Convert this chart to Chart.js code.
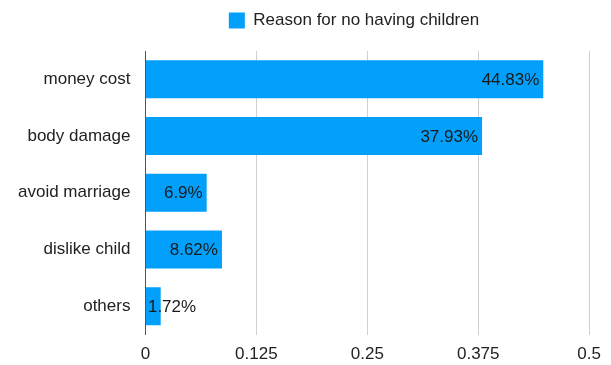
<!DOCTYPE html>
<html>
<head>
<meta charset="utf-8">
<script src="https://cdn.jsdelivr.net/npm/chart.js@4"></script>
<style>
  html, body { margin: 0; padding: 0; background: #fff; }
  #wrap { width: 611px; height: 365px; }
</style>
</head>
<body>
<div id="wrap"><canvas id="chart"></canvas></div>
<script>
var reasons = ["money cost", "body damage", "avoid marriage", "dislike child", "others"];
var shares = [0.4483, 0.3793, 0.069, 0.0862, 0.0172];
var shareLabels = ["44.83%", "37.93%", "6.9%", "8.62%", "1.72%"];
var axisTicks = [0, 0.125, 0.25, 0.375, 0.5];

var FONT = "'Liberation Sans', Arial, Helvetica, sans-serif";

// value text sits inside the bar end; falls back to the bar start when too short
var barValues = {
  id: 'barValues',
  afterDatasetsDraw: function(chart) {
    var ctx = chart.ctx;
    var meta = chart.getDatasetMeta(0);
    ctx.save();
    ctx.font = "17px " + FONT;
    ctx.fillStyle = "#1a1a1a";
    ctx.textBaseline = "middle";
    ctx.textAlign = "left";
    meta.data.forEach(function(bar, i) {
      var txt = shareLabels[i];
      var w = ctx.measureText(txt).width;
      var x = Math.max(bar.x - 4 - w, bar.base + 2);
      ctx.fillText(txt, x, bar.y + 1);
    });
    ctx.restore();
  }
};

// extra room under the legend, and push it a bit right
var legendGap = {
  id: 'legendGap',
  beforeInit: function(chart) {
    var fit = chart.legend.fit;
    chart.legend.fit = function() {
      fit.call(this);
      this.height += 12;
    };
  },
  afterLayout: function(chart) {
    chart.legend.left += 54;
    chart.legend.right += 54;
  }
};

new Chart(document.getElementById("chart"), {
  type: 'bar',
  data: {
    labels: reasons,
    datasets: [{
      label: "Reason for no having children",
      data: shares,
      backgroundColor: "#02a0fb",
      borderWidth: 0,
      barPercentage: 0.67,
      categoryPercentage: 1.0
    }]
  },
  options: {
    indexAxis: 'y',
    responsive: true,
    maintainAspectRatio: false,
    animation: false,
    layout: { padding: { left: 3, right: 14, top: 2, bottom: 0 } },
    plugins: {
      legend: {
        labels: {
          boxWidth: 16,
          boxHeight: 16,
          padding: 10,
          color: "#222",
          font: { family: FONT, size: 17 }
        }
      },
      tooltip: { enabled: false }
    },
    scales: {
      x: {
        min: 0,
        max: 0.5,
        afterBuildTicks: function(axis) {
          axis.ticks = axisTicks.map(function(v) { return { value: v }; });
        },
        afterFit: function(axis) { axis.height -= 10; },
        grid: { color: "#d0d0d0", drawTicks: false },
        border: { display: false },
        ticks: {
          color: "#222",
          padding: 10,
          font: { family: FONT, size: 17 },
          maxRotation: 0,
          callback: function(v) { return String(v); }
        }
      },
      y: {
        grid: { display: false, drawTicks: false },
        border: { display: true, color: "#555", width: 1 },
        ticks: {
          color: "#222",
          padding: 15,
          font: { family: FONT, size: 17 }
        }
      }
    }
  },
  plugins: [barValues, legendGap]
});
</script>
</body>
</html>
